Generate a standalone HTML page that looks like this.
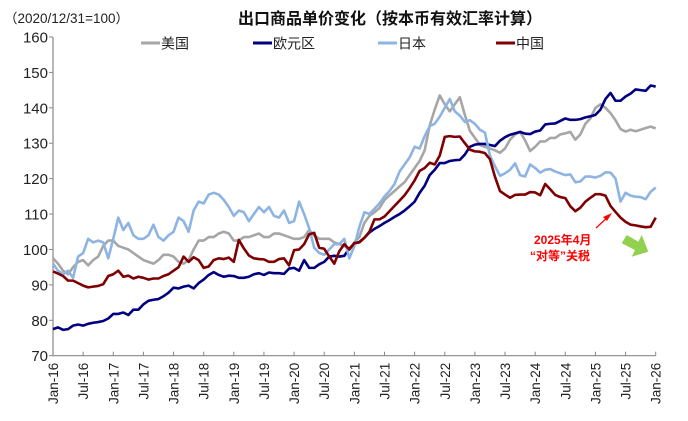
<!DOCTYPE html>
<html><head><meta charset="utf-8"><style>
body{margin:0;background:#fff;}
svg{display:block;font-family:"Liberation Sans","Noto Sans CJK SC",sans-serif;}
</style></head><body>
<svg id="chart" width="688" height="421" viewBox="0 0 688 421" xmlns="http://www.w3.org/2000/svg">
<text x="4" y="23" font-size="13.5" fill="#222">（2020/12/31=100）</text>
<text x="390" y="24" font-size="16" font-weight="bold" text-anchor="middle" fill="#111">出口商品单价变化（按本币有效汇率计算）</text>
<g id="legend"></g>
<g id="axes"></g>
<g id="series"></g>
<g>
<text x="534" y="244" font-size="12" font-weight="bold" fill="#ff0000">2025年4月</text>
<text x="530" y="260" font-size="12" font-weight="bold" fill="#ff0000">“对等”关税</text>
<line x1="596" y1="228" x2="609" y2="216" stroke="#ff0000" stroke-width="1.2"/>
<polygon points="612,213 603,217 607,221" fill="#ff0000"/>
<polygon points="621.7,243.3 626.7,235 638.3,241.7 641.7,235 648.3,251.7 631.7,256.7 635,250" fill="#92d050"/>
</g>
</svg>
<script>
const months = 121; // Jan-16 .. Jan-26
const yTicks = [70,80,90,100,110,120,130,140,150,160];
const xTickLabels = ["Jan-16","Jul-16","Jan-17","Jul-17","Jan-18","Jul-18","Jan-19","Jul-19","Jan-20","Jul-20","Jan-21","Jul-21","Jan-22","Jul-22","Jan-23","Jul-23","Jan-24","Jul-24","Jan-25","Jul-25","Jan-26"];
const seriesNames = ["美国","欧元区","日本","中国"];
const usValues = [97.5,96,94,93,95,96.5,97,95.5,97,98,101,102.5,102.5,101,100.5,100,99,98,97,96.5,96,97,98.5,98.5,98,96.5,96,97,100,102.5,102.5,103.5,103.5,104.5,105,104.5,102.5,102.5,103.5,103.5,104,104.5,103.5,103.5,104.5,104.5,104,103.5,103,103,103.5,105.5,104,103,103,103,102,101.5,101,100,
102,103.5,107.5,109.5,110.5,111.7,114,115.3,116.5,117.8,119,121,123,125,128,135,139.5,143.5,141,139,141,143,138,133.5,131.5,129.5,129,128.5,128,127.3,128.5,131,132.5,133.2,130.8,127.8,129,130.5,130.5,131.5,131.5,132.5,132.8,133.2,131,132.5,135.5,137,140,141,140,138.5,136.5,134,133.3,133.8,133.4,133.8,134.3,134.7,134.2];
const euValues = [77.5,78,77.3,77.5,78.5,78.8,78.5,79,79.3,79.5,79.8,80.5,81.8,81.8,82.2,81.5,83,83,84.5,85.5,85.8,86,86.8,87.8,89.2,89,89.5,89.8,89,90.5,91.5,92.8,93.6,92.8,92.3,92.6,92.5,92,92,92.3,93,93.3,92.8,93.5,93.3,93.3,93.1,94.6,94.8,94,97,94.8,94.8,95.8,96.5,98,98.2,98,98.2,100.3,
101.6,102.1,103.3,104.8,105.8,106.6,107.5,108.3,109.2,110,111,112.2,113.5,116,118,121,122.5,124.4,124.4,125,125.2,125.3,126.8,129,129.6,129.8,129.8,129.5,129.2,130.7,131.7,132.4,132.8,133.2,132.7,132.6,133.3,133.6,135.3,135.5,135.6,136.3,137,136.6,136.6,136.8,137.3,137.6,138,139.5,142.5,144.2,142,142,143.2,144,145.2,145,144.8,146.3,146];
const jpValues = [96,94,93,94,92,98,99,103,102,102.5,102,97.5,103,109,105.5,107.5,104,103,103,104,107,103.5,102.5,104,105,109,108,105,111,113.5,113,115.5,116,115.5,114,112,109.5,111,110.5,108,110,112,110.5,112,109.5,109,111,107.5,108,113.5,110,106,100.5,99,98.5,100,101.5,101.5,103,97.5,
101,106.4,110.5,110,111.5,113,115,116.5,118.5,122,124,126,129,128.5,132,134.8,135.5,137.5,140,142.5,139,137.8,136,136.5,135.5,133.8,133,126.5,123.5,120.8,121.5,122.5,124.3,121,120.6,124,123,121.7,122.5,122.7,122,121.5,121,121.2,119,119.2,120.6,120.6,120.3,120.8,121.8,121.7,120,113.5,116,115.2,114.9,114.8,114.2,116.3,117.5];
const cnValues = [93.8,93.2,92.5,91.2,91.2,90.5,89.8,89.3,89.5,89.7,90.2,92.5,93,94,92.3,92.6,91.8,92.3,92,91.5,91.8,91.8,92.5,93,94,95,98,96.5,97.8,97,94.8,95.2,97,97.5,97.3,97.7,96.5,102.7,100.3,98.3,97.5,97.3,97.2,96.5,96.5,97.3,97.5,95.5,99.8,100,101.5,104.3,104.7,100.5,100.2,98,96,99.5,101.5,100,
101.8,102,103.3,105,108.5,108.5,109.3,110.8,112.3,113.8,115.3,117.3,119.5,122.2,123,124.5,124,126.5,131.8,132,131.8,131.9,130,128.2,127.7,127.6,127.2,125.5,120.5,116.5,115.5,114.6,115.4,115.5,115.5,116.2,116.1,115.3,118.5,117,115.4,114.8,114.5,112.2,110.8,111.8,113.5,114.6,115.6,115.6,115.2,112.3,110.6,109,107.8,107,106.8,106.5,106.3,106.4,109];
const seriesValues = [usValues, euValues, jpValues, cnValues];
const seriesColors = ["#a6a6a6","#000080","#8db4e2","#7f0000"];
const seriesKeys = ["us","eurozone","japan","china"];

const NS="http://www.w3.org/2000/svg";
const L=53,R=655.7,T=37,B=355.7,YMIN=70,YMAX=160;
function xs(i){return L+(R-L)*i/(months-1);}
function ys(v){return B-(B-T)*(v-YMIN)/(YMAX-YMIN);}
function mk(tag,attrs,parent){const e=document.createElementNS(NS,tag);for(const k in attrs)e.setAttribute(k,attrs[k]);parent.appendChild(e);return e;}
const axes=document.getElementById('axes');
let e=mk('line',{x1:L,y1:T,x2:L,y2:B,stroke:'#888','stroke-width':1.2},axes);


e=mk('line',{x1:L,y1:B,x2:R,y2:B,stroke:'#888','stroke-width':1.2},axes);


yTicks.forEach(v=>{
  const y=ys(v);
  const t=mk('line',{x1:L-4,y1:y,x2:L,y2:y,stroke:'#888','stroke-width':1},axes);
  
  
  const tx=mk('text',{x:L-5,y:y+5.5,'font-size':15,'text-anchor':'end',fill:'#222'},axes);
  tx.textContent=v;
  
  
});
xTickLabels.forEach((lab,k)=>{
  const x=xs(k*6);
  const t=mk('line',{x1:x,y1:B-4,x2:x,y2:B,stroke:'#888','stroke-width':1},axes);
  
  
  const tx=mk('text',{x:0,y:0,'font-size':13.5,'text-anchor':'end',fill:'#222',transform:`translate(${x+5},${B+7}) rotate(-90)`},axes);
  tx.textContent=lab;
  
  
});
const sg=document.getElementById('series');
seriesValues.forEach((vals,s)=>{
  const d=vals.map((v,i)=>(i?'L':'M')+xs(i).toFixed(2)+','+ys(v).toFixed(2)).join(' ');
  const p=mk('path',{d:d,fill:'none',stroke:seriesColors[s],'stroke-width':2.6,'stroke-linejoin':'round'},sg);
  
  
});
const lg=document.getElementById('legend');
const legX=[141,253,378,496];
seriesNames.forEach((n,s)=>{
  const ln=mk('line',{x1:legX[s],y1:43,x2:legX[s]+19,y2:43,stroke:seriesColors[s],'stroke-width':3},lg);
  
  
  const tx=mk('text',{x:legX[s]+20,y:48.5,'font-size':14,fill:'#222'},lg);
  tx.textContent=n;
  
  
});
</script>
</body></html>
